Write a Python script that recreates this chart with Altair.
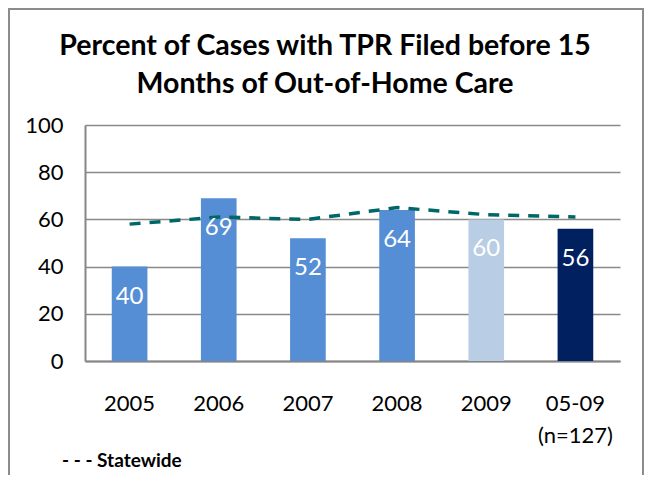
import altair as alt
import pandas as pd

categories = ["2005", "2006", "2007", "2008", "2009", "05-09|(n=127)"]
county_values = [40, 69, 52, 64, 60, 56]
statewide_values = [58, 61, 60, 65, 62, 61]
bar_groups = ["year", "year", "year", "year", "recent", "total"]
title_lines = ["Percent of Cases with TPR Filed before 15",
               "Months of Out-of-Home Care"]
legend_text = "- - - Statewide"

df = pd.DataFrame({
    "cat": categories,
    "value": county_values,
    "statewide": statewide_values,
    "group": bar_groups,
})

FONT = "Lato"

x = alt.X("cat:N", sort=categories, title=None,
          scale=alt.Scale(paddingInner=0.6, paddingOuter=0.3),
          axis=alt.Axis(labelExpr="split(datum.label, '|')", labelAngle=0,
                        ticks=False, labelPadding=32, labelFontSize=22,
                        labelLineHeight=32, labelColor="#000000",
                        labelFont=FONT, domainColor="#868686", domainWidth=2))
y = alt.Y("value:Q", title=None,
          scale=alt.Scale(domain=[0, 100]),
          axis=alt.Axis(values=[0, 20, 40, 60, 80, 100], ticks=False,
                        labelPadding=22, labelFontSize=22, labelColor="#000000",
                        labelFont=FONT, gridColor="#898989", gridWidth=1.5,
                        domainColor="#868686", domainWidth=2))

bars = alt.Chart(df).mark_bar().encode(
    x=x, y=y,
    color=alt.Color("group:N", legend=None,
                    scale=alt.Scale(domain=["year", "recent", "total"],
                                    range=["#558ED5", "#B9CDE5", "#002060"])),
)

labels = alt.Chart(df).mark_text(dy=30, color="white", fontSize=24, font=FONT).encode(
    x=alt.X("cat:N", sort=categories), y=alt.Y("value:Q"), text="value:Q"
)

line = alt.Chart(df).mark_line(color="#006666", strokeWidth=3.5,
                               strokeDash=[11, 9]).encode(
    x=alt.X("cat:N", sort=categories), y=alt.Y("statewide:Q")
)

title_df = pd.DataFrame({"t": ["\n".join(title_lines)]})
title = alt.Chart(title_df).mark_text(
    align="center", baseline="alphabetic", fontSize=28.5, fontWeight="bold",
    font=FONT, color="#000000", lineBreak="\n", lineHeight=38
).encode(text="t:N", x=alt.value(240), y=alt.value(-70))

legend_note = alt.Chart(pd.DataFrame({"t": [legend_text]})).mark_text(
    align="left", baseline="middle", fontSize=19, fontWeight="bold",
    font=FONT, color="#000000"
).encode(text="t:N", x=alt.value(-23), y=alt.value(336))

frame = alt.Chart(pd.DataFrame({"a": [0]})).mark_rect(
    fill=None, stroke="#8c8c8c", strokeWidth=2
).encode(x=alt.value(-76), x2=alt.value(558), y=alt.value(-116), y2=alt.value(400))

chart = alt.layer(frame, bars, line, labels, title, legend_note).properties(
    width=535, height=236,
    autosize=alt.AutoSizeParams(type="none"),
    padding={"left": 77, "top": 117, "right": 32, "bottom": 114},
).configure_view(stroke=None).configure_axis(grid=True).configure_axisX(grid=False)

chart.save("out.html", embed_options={"renderer": "svg", "actions": False})
